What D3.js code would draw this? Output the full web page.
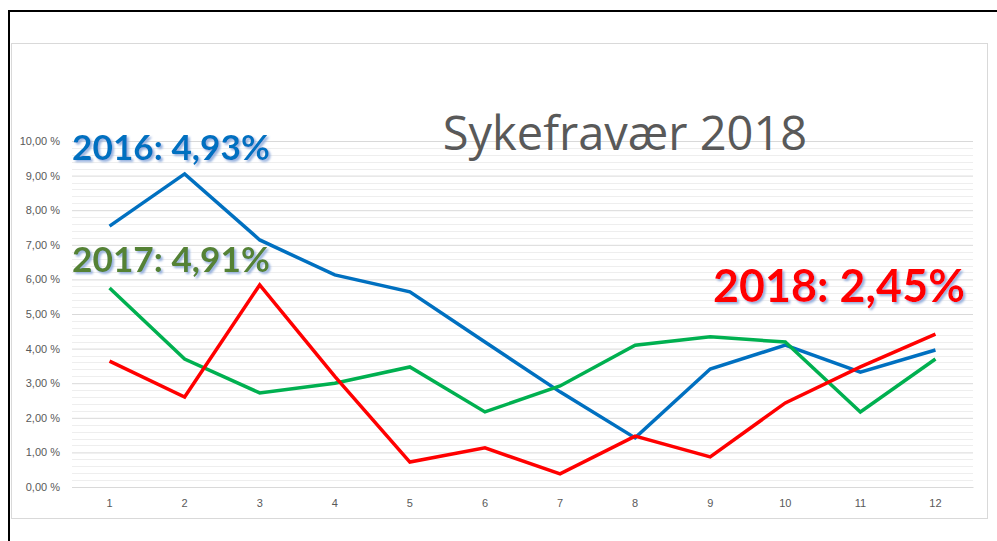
<!DOCTYPE html>
<html>
<head>
<meta charset="utf-8">
<script src="https://cdn.jsdelivr.net/npm/d3@7"></script>
<style>
  body { margin: 0; background: #fff; }
  svg { display: block; font-family: "Open Sans", "Noto Sans", sans-serif; }
  .tick text { fill: #595959; font-size: 11px; }
</style>
</head>
<body>
<svg width="997" height="541"></svg>
<script>
// months 1..12
var months = [1, 2, 3, 4, 5, 6, 7, 8, 9, 10, 11, 12];

// sick leave in percent
var y2016 = [7.54, 9.05, 7.14, 6.13, 5.64, 4.19, 2.75, 1.42, 3.41, 4.10, 3.32, 3.96];
var y2017 = [5.75, 3.70, 2.72, 3.00, 3.47, 2.17, 2.92, 4.10, 4.34, 4.19, 2.17, 3.70];
var y2018 = [3.64, 2.60, 5.84, 3.20, 0.72, 1.13, 0.38, 1.47, 0.87, 2.43, 3.47, 4.42];

var yTicks = [0, 1, 2, 3, 4, 5, 6, 7, 8, 9, 10];

var seriesNames = ["2016", "2017", "2018"];
var seriesColors = ["#0070C0", "#00B050", "#FF0000"];
var labelTexts = ["2016: 4,93%", "2017: 4,91%", "2018: 2,45%"];
var labelColors = ["#0070C0", "#548235", "#FF0000"];

var svg = d3.select("svg");

// soft bluish shadow for the year labels
var filter = svg.append("defs").append("filter")
    .attr("id", "shadow")
    .attr("x", "-5%").attr("y", "-10%")
    .attr("width", "115%").attr("height", "130%");
filter.append("feDropShadow")
    .attr("dx", 2).attr("dy", 2)
    .attr("stdDeviation", 0.8)
    .attr("flood-color", "#8eaadb")
    .attr("flood-opacity", 0.9);

// outer frame (black) and chart area (light grey)
svg.append("rect")
    .attr("x", 9).attr("y", 11)
    .attr("width", 1000).attr("height", 540)
    .attr("fill", "none")
    .attr("stroke", "#000")
    .attr("stroke-width", 2);

svg.append("rect")
    .attr("x", 11.5).attr("y", 43.5)
    .attr("width", 976).attr("height", 475)
    .attr("fill", "none")
    .attr("stroke", "#d9d9d9");

var plotLeft = 72, plotRight = 973, plotTop = 141, plotBottom = 487;

var x = d3.scaleBand().domain(months).range([plotLeft, plotRight]);
var y = d3.scaleLinear().domain([0, 10]).range([plotBottom, plotTop]);

// minor gridlines every 0,2 %
var minor = d3.range(0, 10.001, 0.2).filter(function(v) { return Math.abs(v - Math.round(v)) > 0.01; });
svg.append("g")
    .selectAll("line")
    .data(minor)
    .enter().append("line")
    .attr("x1", plotLeft).attr("x2", plotRight)
    .attr("y1", function(d) { return Math.round(y(d)) + 0.5; })
    .attr("y2", function(d) { return Math.round(y(d)) + 0.5; })
    .attr("stroke", "#eeeeee");

// major gridlines + labels
var yAxis = svg.append("g")
    .attr("transform", "translate(" + plotLeft + ",0)")
    .call(d3.axisLeft(y)
        .tickValues(yTicks)
        .tickSizeInner(-(plotRight - plotLeft))
        .tickSizeOuter(0)
        .tickPadding(12)
        .tickFormat(function(d) { return d3.format(".2f")(d).replace(".", ",") + " %"; }));
yAxis.select(".domain").remove();
yAxis.selectAll(".tick line").attr("stroke", "#d9d9d9");

var xAxis = svg.append("g")
    .attr("transform", "translate(0," + plotBottom + ")")
    .call(d3.axisBottom(x).tickSize(0).tickPadding(12));
xAxis.select(".domain").attr("stroke", "#d9d9d9");

// title
svg.append("text")
    .attr("x", 625)
    .attr("y", 150)
    .attr("text-anchor", "middle")
    .attr("fill", "#595959")
    .style("font-family", "'Open Sans', sans-serif")
    .style("font-size", "47px")
    .text("Sykefravær 2018");

// lines
var line = d3.line()
    .x(function(d, i) { return x(months[i]) + x.bandwidth() / 2; })
    .y(function(d) { return y(d); });

[y2016, y2017, y2018].forEach(function(vals, i) {
    svg.append("path")
        .datum(vals)
        .attr("class", "line s" + seriesNames[i])
        .attr("fill", "none")
        .attr("stroke", seriesColors[i])
        .attr("stroke-width", 3.5)
        .attr("stroke-linejoin", "miter")
        .attr("d", line);
});

// year labels
var labelPos = [
    {x: 72, y: 160, size: 36, w: 198},
    {x: 72, y: 272, size: 36, w: 198},
    {x: 713, y: 302, size: 46, w: 252}
];

labelTexts.forEach(function(t, i) {
    var p = labelPos[i];
    var lbl = svg.append("text")
        .attr("class", "label")
        .attr("x", p.x).attr("y", p.y)
        .attr("fill", labelColors[i])
        .attr("filter", "url(#shadow)")
        .style("font-family", "Lato, sans-serif")
        .style("font-weight", "bold")
        .style("font-size", p.size + "px")
        .text(t);
    // squeeze to the width seen in the picture
    var len = lbl.node().getComputedTextLength();
    lbl.style("font-size", (p.size * p.w / len) + "px");
});
</script>
</body>
</html>
